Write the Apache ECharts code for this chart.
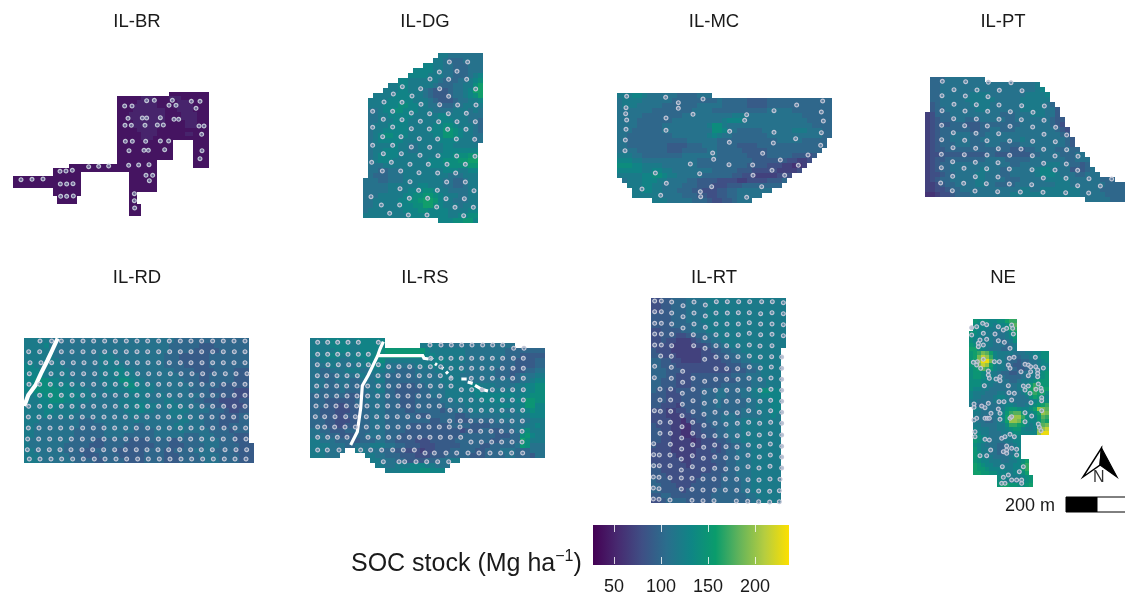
<!DOCTYPE html>
<html><head><meta charset="utf-8">
<script src="https://cdn.jsdelivr.net/npm/echarts@6/dist/echarts.min.js"></script>
<style>html,body{margin:0;padding:0;background:#fff}#c{width:1125px;height:596px;filter:blur(.5px)}</style>
</head><body><div id="c"></div>
<script>
// value letters -> SOC stock (Mg/ha)
const levels={a:30,b:40,c:50,d:60,e:70,f:80,g:90,h:100,i:110,j:120,k:130,l:140,m:150,n:160,o:170,p:180,q:190,r:200,s:215,t:230};
const legendTicks=[50,100,150,200];
const socMin=27.7, socMax=236.2;
const viridisStops=['#440154','#472a70','#3f4f85','#2a6e8d','#0f8585','#0a9c6c','#65b45a','#b5cd40','#fde000'];

// rasters: one string per row, letter = value, optional count = run length, space = no data
const rasterBR=[" 40b10"," 27b6c3b4c3b7"," 27b5c5b5c3b5"," 27b4c6b4c5b4"," 27b4c8b3c4b4"," 27b3c9b4c4b3"," 27b3c9b4c4b3"," 27b4c8b5c3b3"," 27b4c7b6c3b3"," 27b5c5b13"," 27b6c4b7c2b4"," 27b6c3b14"," 27b14 5b4"," 27b14 5b4"," 27b14 5b4"," 27b14 5b4"," 27b14 5b4"," 27b10 9b4"," 15b22 9b4"," 11b26"," 11b7 12b7"," 1b17 12b7"," 1b17 12b7"," 1b17 12b7"," 11b7 12b7"," 11b7 12b2"," 12b5 13b2"," 12b5 13b2"," 30b3"," 30b3"," 30b3"];
const rasterDG=["               jjiiiiiii","              jjihhhiiii","            kkjjiihhhiii","          kkkkjjiihhhiii","         kkkkjjjiihhhijk","       kkjjjjjjihhhiijkl","     jjkkjjjjjihhhiijjln","    jjjkkjjjihggghiijknn","  jjjjkkkkjjihggghiijkln"," jjjjkkkkkjjjihggghiijjk"," jjjkkkllkkjjiihhhiijjjj"," iijkkllkkkjjjiiiijjjiji"," iijjkkkkkjjjjjkkjjjjiii"," iijjjkkkjjjjjjkkkjjjiih"," ijjjkkkkjjjjjkkllkjjjih"," ijjkkkkkjjjjkkkmmlkjjih"," ijkllkkkjjjjjkkmmlkjjii"," ijkkkkkjjjjjjjkkkkjjjii"," ijjjjkjjiijjjjjkkjjjjj"," ijjkkkjjiijjjjjkkkkkkk"," ijkkkkjjjjjjjjkkklllmm"," ijkkkjjjjjjjkkklllmmnn"," iiijjjjjjjjjkkkkllllmm"," iihhiiijjjjjjjjkkkjjkk"," ihhhiiijjjjjjjjjiiijjj","iiihhiiijjjjjjjjiihhijj","iiiiijjjjjjkkjjjiihhijj","iiiiijjjjkkkllkjjiiiijj","iiijjjjjkkllmmlkjjjiijj","iijjjjjkkllmnnmkjjiiijj","iijjjjjkkkllnnlkjjjijjj","ijjjjjjjkkkllkkkkjjjjkk","jjjjjjjjjkkkkkkkkjjkkll","               kkkllmmk"];
const rasterMC=["jjjkkjiiiiiihhhhiii","ijjjjiiiiiihhhhhhhhhihhhhhgggghhhhhhhhhhhhh","ijjjiiiiihhhhhhhiiiiihhhhhgggghhhhhhhhhhhhh","iiiiiiihhhhhhhhiiiihhhhhhhhhhhiiiiihhhhhhhh","iiiiihhhhhhhhiiiiiiiiiijjjiiiiiiiiiiihhhhhh","iiiihhhhhhhiiiiiiiiiijkkkjiiiiiiiiiiiihhhhh","iiiihhhhhiiiiiiiiijlljiiiiiiiiiiiiiiiiihhhh","iiihhhhhhiiiiiiiiiillkiihhhhhiiiiiijjjiiihh","iihhhhhhhhhiiiiiiijkjiihhhhhhhiiiiiiiiiiihh","iihhhhhhhhhhhhiiiiiihhhhhhhhhhhhiiiiihhhhh","iihhhhhhhhgggghhhiiihhhhgggghhhhhhhhhhhhhh","iiiihhhhhhggghhhhhiihhhhhggggghhhhhhhhhhh","jjjiihhhhhhhhiiiiiiihhhhhhgggghhhhhgggfg","kkkjjiiiiiiiiiiihhhhhhhhhhhgggggggffeef","lllkkjjjjiiiiiiihhhhhhhhhhggggfffeedde","kkkkkjjkkjjiiiiiiiihhhhhgggfffffeeeef","jjjjjkkllkjjiiiiihhhhhhggffeeeeefff"," ijjjkkkjjiiiihhggggffffeeffffgggh","  jjjkkjjiiiihhhgggfffggghhhhhhhh","   jjkkjjiiihhhggfffgghhiiiiiii","   jjjjjjiiiihhhggffgghhiiiii","       jjjiiiiihhhgffgghiii"];
const rasterPT=[" hhhiiiiiiii"," hhiiiiiiiiiiiiiiiiiiij"," hhiiiiiiijiiiiiiiiiiijk"," hhiiiiiijjjjiiiiiiijjjjk"," hhiiiiijjjjjjiiiiijjjjjj"," ghiiiiiijjjjiiiiiijjjjjih"," ghhiiiiiijjjiiiiiijjjjjiig","efhhhiiiiiiiiiihhhiiijjjiig","efghhhiihhhiiiiihhiiiiiiihgg","efggghhhggghhhhhhhhiiiiiihgf","efghhhhhhgghhiihhhiiiiiiiihgf","efghhiiiihhhiiiiiiiiiiiiiiihg","efghhiiiihhiiiiiiiijiiiiiiiihg","efghhhiiihhhiiihhhhiiiiiiiiihg","efgghhhhhhhhhhhhhggghhiiiihhihh","effggggggggghhggggggghhiiiihhhii","efgghhhhhhhhiiiihhhhhiiiiiiihhiii","efghhiiiiiiiiiiiihhiiiiijjjiihhgh","efghhiiiiiijjiihhiiiijjkkjiiiggghi","effghhiiiijjiiihhiiiiijkkkjiiihhiii","efghhiiiiijjiiiihhhiiiiijjjjjiiiiiihhh","eefghhiiiijjiihhhhiiiiiiiijjjiiiiiiihhhh","eeffghhiiiiiiiiiiiijjiijjjjjjjjiiiihhhhh","ddeffghhhiiiiiiiijjjjjjjjjjjjjjiiiiihhhh"," 32i5h3"];
const rasterRD=["j5i25h15","j4k1i24h6g3h7","j6i23h5g5h6","j6i9j3i10h3g6h8","j7i8j4i9h3g6h8","k2j6i7j5i8h4g5h8","k3j6i6j3k2j2i8h4g4h4g3","k4j5i6j3k3j2i8h4g2h5g3","k2l3k2j3i5j4l2k1j2i8h3g2h5g3","k2l4k3j3i4j4l2k1j3i8h5g6","k2l5k3j3i3j5k2j3i7h4g5f3","j2k2l4k3j4i5j5i2j1i7h4g3f3","j3k2l3k2j3i6j6i3j2i4h2g3f4g2","j3k4j4i8j3k2j3i1j4i3h3g2f4g1","j4k2j5i9j3k1j2i3j4i4h3g1f2g2","j4k1j5i11j2i6j3i3h4g4h2","j3i8h3i8j1i8j2i3h3g4h2","j2i9h5i6h2i6j2i4h3g2h4","j2i8h6i6h4i5j1i5h4g1h3","j2i8h6i4h6i6h3i3h4g3","j1i8h5g2h5g4h4g2h4i4h3g3","j1i7h5g3h4g6h3g3h4i3h4g3","j2i6h3g3h4g6h4g2h4i4h4g4","j3i6h3g3h4g5h4g3h4i4h4g3","j3i7h4g2h4g4h4g3h5i3h4g3"];
const rasterRS=["j3k5j1k6","j4k4j2k5 7j4i15","j5k3j2k4l1m8k1j7i8h8","j3k3j3k4l2m7l1k2j6i8h3g5","i2j4i2j3k3l1j10k2j4i7h3g4h2","i3j3i3j3k3i6j3k1j5i8h3g4h2","i2h2i3j3i2j3i2h4i4j6i6h3g3h2i2","i2h3i4j2i2j1i1h6i5j4i7h3g1h1i3j2","i3h2i3h2i3j2h7i4j5i6i3h2i2j1k2","i3h3i2h3i2i2h3g3h2i4j5k2j3i4j2k2l2","i2h4i1h4i2j2h2g5h1h1i3j5k3j3j3j2k2l2","h7g3h2i3h2g4h3i3j6k5k3j1k2l3","h3g6h2i4h3g3h3h2i3j5k4j3k1k1m2l2","h3g2f2g2h3i3h3g3h3h3i4j4j3k2j2k1m2k2","h2g3f3g2h2i3h4g2h3h2g1h2i3j3j4i2j1k2l1k2","h2g3f2g3h2i3h6g3h5g2h1i2i4j2i2j2k3","h3g2f3g2h2i3h9g2h3g3h2h3i5i2j1j2","h3g2f2g3h2i3h5g5g3h4g2g2h4i2i1j2k1j1","i2h2g3h3h2i3h4g7g4f1g3h2g2h3i1k1l1j3","i3h3g3h2i2i2h3g8g4h4h3g3h2l1m1k1j2","j2i3h3g2h3i2h2g4f3g2g3h5h2g2h4n1l1j3","j4i3h2i3j3i2h2g3f3g2g3h4g2h5i1m1l1i3","j3i4 2j2i3h3g2f3e1f2g3h5g2h3i3h3i3","j3i3 5j2i2h3g3f3g3h5g3h4i2h3g1i2"," 12j2i3h2g4h3i2j2"," 13j2i2j3k3j2i3"," 15j3k4l2k3"];
const rasterRT=["f2g2h3i4j16","f2g2h3i4j16","f2g2h3i4j16","g4h3i4j16","g4h3i3j17","g4h4i3j16","f2g4h2i3j16","f2g3f2g2h2i2j14","f2g1f2e3f1g1h2i2j13","f4e5f2g1h2i1j12","g1f3e6f2g2h2i2j8","g2f3e5f3g2h2i2j7","h2g2f2e4f4g2h2i2j6","h2g3f10g3h2i2j4","h3g3f10g3h2i1j4","h3g2f3g8h3i3j4","h2g3f3g9h3i3j3","h2g3f3g6h4h2i3j3","h1g2f2g5h3i2h2i3j1k1l2k2","g3f3g4h3i2h3i2j2k2k2","g3f3g4h3i1h5i2j3k2","g2f3e1g4h3i1h5i2j3k2","f3e2f2g3h3h5i3j3k2","f3e3f2g3h3i3h1i4j2k1j1","f4e2d1f2g2h3i4j8","g1f3e2d2f2g2h3i3j8","g2f2e2d2f2g3h2i3j8","g2f2e2d2e1f2g2h2i3j8","g2f2e4d1e1f3g2h1i2j8","g1f3e6f4g2h2i2j6","f4e5f3g1f1g1h2i3j6","f5e4f4g2h2i3j6","f6e2f4g3h2i3j6","g1f6e1f5g2h2i3j6","g2f10g3h2i3j6","g3f7g4h3i3j6","h1g3f5g5h4i2j6","h2g3f3g6h4i2j6","h2g4f1g6h5i2j6","g2h2g8h7i2j5","f2g1h4g5h8i2j4"];
const rasterNE=[" mlllkkllnoo"," lkkkkjkklnp"," lkkjjjjklno","mlkkjjiiijln","lkkjjjiiijkm","lkjjjjiihijl","mlkjjjiiihij","nnlkjiiihhij","mnoqpnkjjjjiiijjkkll","mnqsrokjjihhhiijjkll","mnrttqljjihhghhiijkl","mmqsrnkjjihgghhiijkk","lmnpomkjjihhgghijjkl","lmmlkjjihhgghiijjklm","lmmlkkjiihhhhiijjklm","lllkkjjiiihhijjklmmm","lllkjjiiiiiijjkmonmm","lkkjjiiiiiiijklnpnnn","kjjjiiijjiiiijlnonnl","kjjiiijkkjiiiijlnmlk","jjiiiijjjjiiiiijklll","jihhiiiijkkjiijklmno"," kjiiiiijlmmlkklnrqp"," jjiiiijkmoppmkklnrq"," jiihiijknsrrolkkmpo"," jiihhijknrrqnlkkmon"," jjiiiijjloonmkjkmpq"," kjjjiijjklmmkjjkqrs"," lkjjiiijjkllkkkkrtt"," mlkjiiiijjkk"," mlkjiiiijjkk"," lkjiiihhiijk"," mkjjiihhhijk"," mljjiihhiijk"," mlkjjiiiijkl"," mlkkjjjiijjkln"," nmlkkjjjjjkkmo"," nmmlkkkkjjkkmo"," nnmmllkkkjkkln","       lkkjjjklm","       lkjjjjklm","       mnnmmllmn"];

// sampling locations, map units of each field
const pointsBR=[[440,62],[463,61],[517,61],[574,64],[600,64],[374,78],[396,78],[507,76],[528,76],[588,85],[384,115],[427,114],[440,114],[481,113],[522,118],[536,118],[375,136],[394,136],[435,136],[472,135],[490,135],[597,138],[612,138],[605,163],[376,184],[397,184],[437,184],[481,183],[506,183],[387,212],[432,211],[445,211],[494,209],[606,212],[600,236],[386,256],[416,255],[447,254],[266,260],[296,259],[326,258],[180,274],[198,273],[217,271],[438,286],[458,286],[448,302],[63,299],[96,298],[129,297],[181,312],[200,312],[219,311],[403,341],[403,362],[404,384],[182,349],[200,349],[220,348]];
const pointsDG=[[283,51],[338,51],[253,81],[306,79],[225,102],[281,103],[335,103],[142,125],[197,131],[254,131],[362,132],[115,147],[171,153],[281,154],[87,171],[141,172],[198,178],[254,179],[308,180],[363,180],[53,199],[113,199],[169,204],[224,206],[280,206],[334,205],[85,223],[141,224],[196,229],[251,230],[306,230],[361,230],[53,247],[113,246],[169,251],[223,252],[278,253],[333,253],[83,275],[138,275],[193,281],[248,282],[304,282],[359,283],[53,301],[113,301],[169,306],[224,307],[85,326],[139,326],[195,331],[249,332],[305,333],[360,334],[50,352],[109,352],[165,358],[220,358],[276,358],[331,358],[82,378],[137,378],[192,383],[248,384],[302,384],[165,410],[275,411],[331,411],[135,431],[191,436],[247,436],[357,437],[48,455],[163,460],[218,460],[273,461],[328,461],[79,480],[134,480],[245,486],[300,487],[355,487],[104,505],[160,510],[216,510],[326,512]];
const pointsMC=[[50,34],[167,37],[205,53],[279,42],[638,48],[560,60],[48,68],[205,70],[47,86],[249,88],[492,77],[634,81],[410,89],[50,105],[168,99],[404,106],[640,108],[48,133],[168,136],[359,139],[492,142],[634,143],[46,165],[358,172],[557,161],[490,174],[632,181],[45,197],[308,204],[458,205],[594,210],[311,223],[511,225],[241,237],[357,239],[428,240],[565,241],[136,264],[269,266],[486,256],[429,271],[524,271],[169,295],[305,305],[455,305],[96,312],[271,320],[152,331],[272,335],[410,337]];
const pointsPT=[[67,34],[137,35],[205,37],[273,38],[102,59],[171,60],[238,61],[306,62],[66,77],[136,78],[204,80],[102,103],[169,104],[237,105],[305,107],[373,108],[66,122],[135,123],[203,124],[271,125],[339,127],[101,146],[169,147],[237,148],[304,149],[372,151],[65,166],[134,167],[202,168],[270,169],[338,171],[407,172],[100,188],[168,190],[236,191],[372,193],[440,195],[65,209],[134,211],[201,212],[269,213],[338,214],[406,215],[99,233],[167,235],[235,236],[303,237],[371,238],[440,239],[64,253],[133,254],[201,255],[269,256],[337,257],[405,258],[474,259],[98,275],[166,277],[234,278],[371,280],[439,282],[64,293],[132,295],[200,296],[268,297],[336,299],[405,300],[473,301],[98,319],[166,320],[234,321],[370,324],[438,325],[507,326],[575,327],[62,339],[131,340],[199,341],[268,342],[335,344],[473,347],[541,348],[97,362],[165,363],[233,365],[301,366],[369,367],[437,368],[506,369]];
// row lists: [northing, [eastings]]
const rowsRD=[[33,[75,110,139,172,204,236,269,301,334,366,398,431,463,496,528,560,593,625,657,690]],[65,[41,74,139,171,204,236,269,301,334,366,398,431,464,496,528,560,593,625,658,690]],[98,[45,78,110,143,175,207,240,272,305,337,367,399,431,463,496,528,561,593,625,657,690]],[131,[43,108,141,173,206,239,271,304,336,368,401,433,466,498,531,563,598,631,663,696]],[163,[42,74,106,138,171,203,236,269,301,333,366,398,431,463,496,528,561,593,626,658,690]],[196,[74,106,139,171,203,236,269,301,334,366,398,431,463,495,528,561,593,625,658,690]],[229,[41,74,106,139,171,204,236,269,301,334,366,398,431,463,496,528,561,593,626,658,690]],[261,[40,72,104,137,169,202,234,267,299,331,364,396,429,461,494,526,559,591,624,656,693]],[294,[40,72,105,137,170,203,235,267,299,332,364,398,431,463,496,528,561,593,627,660,692]],[327,[38,71,104,136,169,202,234,267,299,332,364,397,430,462,495,527,560,592,625,660,693]],[359,[37,70,103,135,168,201,233,266,299,331,364,396,429,461,494,527,559,592,630,663,695]],[387,[43,75,108,140,173,205,238,270,303,335,368,400,433,465,498,530,563,595,628,660,693]]];
const rowsRS=[[52,[53,83,113,144,175,235]],[60,[390,423,454,485,516,548,578,608]],[70,[641,672]],[88,[53,83,113,144,175,205]],[100,[392,423,453,484,515,546,577,608,640,670]],[119,[52,84,115,146,176,205,235]],[125,[266,297,329,360,391,422]],[130,[453,484,515,546,576,607,639,670]],[152,[52,80,111,141,172,234,264,295,326,358,389,421]],[160,[453,514,546,577,608,638,670]],[183,[50,79,110,140,171,203,235,266,296,327,359,391,422,453]],[194,[484,515,546,577,608,638,670]],[213,[50,79,110,141,171,203,233,263,294,324,356,386,418]],[225,[451,482,513,545,576,607,637,670]],[243,[48,78,108,139,170,201,232,263,294,325,356,387,418]],[256,[450,481,512,544,575,606,637,668]],[275,[46,74,105,137,166,199,230,261,292,323,355,385]],[288,[449,481,512,543,574,605,636,667]],[306,[53,74,104,135,166,199,232,263,294,325,356,387,418,448,480]],[319,[511,542,573,604,635,666]],[337,[53,83,112,141,204,235,266,297,328,359,390,421,451,482]],[351,[513,544,575,605,636,666]],[375,[53,82,117,182,212,245,278,310,343]],[384,[375,403,438,470,504,537,570,602,635,668]],[410,[250,297,314,348,380,413,446]]];
const pointsRT=[[44,33],[64,33],[95,36],[129,47],[162,36],[196,45],[229,35],[262,35],[296,35],[329,35],[365,35],[397,35],[430,38],[44,65],[64,65],[95,69],[129,80],[162,69],[196,78],[228,69],[262,69],[295,68],[328,68],[362,71],[396,68],[430,71],[44,100],[64,100],[95,102],[129,114],[162,102],[196,112],[228,102],[261,102],[295,102],[328,98],[362,102],[396,102],[430,104],[44,132],[64,132],[95,133],[160,134],[195,143],[228,134],[261,134],[295,134],[328,130],[362,134],[396,133],[430,137],[44,165],[64,165],[95,167],[161,167],[195,175],[228,167],[260,167],[294,167],[328,165],[360,168],[396,167],[62,198],[94,199],[194,208],[228,201],[260,201],[294,200],[328,198],[361,201],[395,200],[425,201],[44,229],[94,232],[128,244],[228,236],[260,236],[293,236],[328,231],[361,234],[394,231],[425,235],[43,263],[94,265],[128,277],[159,265],[194,274],[227,268],[260,268],[294,268],[327,265],[360,268],[393,264],[425,268],[60,297],[92,297],[127,310],[159,298],[193,307],[226,301],[260,301],[293,301],[327,298],[360,301],[393,298],[425,301],[60,330],[92,330],[127,343],[159,332],[193,340],[226,334],[259,334],[293,334],[326,331],[360,334],[392,331],[425,334],[43,362],[61,364],[92,364],[126,377],[159,365],[192,373],[225,367],[259,369],[292,368],[326,362],[358,367],[392,362],[425,367],[60,397],[91,397],[126,410],[158,397],[192,406],[225,400],[258,403],[292,400],[326,397],[359,400],[392,397],[425,400],[60,430],[91,430],[125,444],[158,430],[191,439],[225,437],[258,437],[292,437],[325,431],[358,435],[391,431],[425,435],[41,461],[91,463],[125,477],[158,464],[191,472],[224,465],[258,470],[291,471],[325,465],[358,469],[391,462],[425,469],[41,494],[58,495],[90,495],[124,507],[157,497],[190,505],[224,501],[257,503],[291,503],[324,496],[358,501],[391,495],[425,501],[41,527],[58,527],[90,527],[124,540],[157,530],[190,538],[224,535],[257,537],[291,536],[324,530],[357,534],[390,529],[425,534],[40,561],[57,562],[90,563],[124,564],[156,565],[189,567],[222,567],[256,567],[290,568],[324,569],[357,570],[390,567],[420,568],[40,594],[57,596],[124,597],[156,598],[189,600],[223,600],[256,600],[290,601],[323,602],[356,603],[389,604],[418,602],[40,627],[57,628],[90,630],[156,631],[189,632],[222,632],[289,633],[323,634],[356,635],[389,636],[418,635]];
const pointsNE=[[35,53],[50,50],[68,40],[80,44],[115,50],[155,45],[158,55],[130,60],[140,55],[70,70],[105,72],[160,72],[35,75],[80,88],[60,90],[115,92],[133,97],[55,100],[70,105],[55,110],[150,115],[40,157],[52,155],[70,148],[50,165],[62,175],[103,155],[118,155],[148,145],[162,142],[226,142],[145,165],[150,175],[195,163],[205,165],[212,170],[227,170],[250,174],[233,180],[233,190],[233,200],[183,185],[85,183],[85,195],[108,207],[88,205],[120,200],[120,212],[212,185],[205,197],[235,222],[145,227],[73,227],[190,228],[205,228],[195,240],[228,238],[243,235],[245,243],[147,248],[163,250],[155,270],[117,275],[132,275],[210,250],[245,263],[245,272],[42,282],[42,292],[65,288],[75,293],[85,280],[213,278],[115,297],[120,310],[195,308],[245,302],[93,310],[120,328],[75,325],[82,325],[88,325],[150,325],[155,320],[50,325],[42,330],[195,335],[215,318],[235,342],[238,352],[243,362],[45,365],[45,380],[75,388],[88,390],[125,385],[135,380],[150,373],[163,380],[92,420],[140,408],[155,415],[140,420],[130,425],[140,430],[170,418],[170,435],[60,437],[80,437],[127,470],[190,470],[178,485],[145,495],[130,502],[125,520],[135,520],[155,510],[170,510],[185,510],[185,520]];
// unsampled strips (drainage) crossing the fields, "-" breaks the line
const gapRD=[[128,25],[112,60],[98,90],[78,130],[62,165],[40,195],[28,228]];
const gapRS=[[250,50],[240,72],[233,92],[205,150],[187,182],[182,250],[172,320],[152,360],['-','-'],[235,92],[368,92],[372,100],[386,102],['-','-'],[392,98],[398,104],['-','-'],[405,116],[411,120],['-','-'],[424,127],[430,131],['-','-'],[438,140],[444,146],['-','-'],[450,155],[456,158],['-','-'],[484,162],[500,162],['-','-'],[503,171],[518,175],['-','-'],[525,181],[545,193],[564,198]];

const fields=[
 {name:'IL-BR',cx:137,cy:22,left:0,top:80,w:220,h:140,ox:28,oy:35,cell:12,raster:rasterBR,points:pointsBR},
 {name:'IL-DG',cx:425,cy:22,left:355,top:45,w:135,h:185,ox:25,oy:24,cell:15,raster:rasterDG,points:pointsDG},
 {name:'IL-MC',cx:714,cy:22,left:610,top:85,w:230,h:125,ox:20,oy:23,cell:15,raster:rasterMC,points:pointsMC},
 {name:'IL-PT',cx:1003,cy:22,left:920,top:70,w:205,h:135,ox:14,oy:20,cell:15,raster:rasterPT,points:pointsPT},
 {name:'IL-RD',cx:137,cy:278,left:15,top:330,w:245,h:140,ox:27,oy:25,cell:15,raster:rasterRD,rows:rowsRD,gap:gapRD},
 {name:'IL-RS',cx:425,cy:278,left:300,top:325,w:255,h:150,ox:30,oy:38,cell:15,raster:rasterRS,rows:rowsRS,gap:gapRS},
 {name:'IL-RT',cx:714,cy:278,left:640,top:290,w:150,h:220,ox:32,oy:24,cell:15,raster:rasterRT,points:pointsRT},
 {name:'NE',cx:1003,cy:278,left:960,top:310,w:100,h:185,ox:28,oy:28,cell:12,raster:rasterNE,points:pointsNE}
];

function decode(row){const out=[];row.replace(/([a-t ])(\d*)/g,(m,c,n)=>{const k=n?+n:1;for(let i=0;i<k;i++)out.push(c);return m;});return out;}
function cells(f){const d=[];f.raster.forEach((row,r)=>decode(row).forEach((c,k)=>{if(c!==' ')d.push([f.ox+k*f.cell,f.oy+r*f.cell,levels[c]]);}));return d;}
function pts(f){return f.points||f.rows.flatMap(([y,xs])=>xs.map(x=>[x,y]));}

const grid=[],xAxis=[],yAxis=[],series=[],title=[],rasterIdx=[];
const FONT='"Liberation Sans",Arial,sans-serif';
fields.forEach((f,i)=>{
 grid.push({left:f.left,top:f.top,width:f.w,height:f.h,containLabel:false});
 xAxis.push({type:'value',gridIndex:i,min:0,max:f.w*3,show:false});
 yAxis.push({type:'value',gridIndex:i,min:0,max:f.h*3,inverse:true,show:false});
 title.push({text:f.name,left:f.cx,top:f.cy,textAlign:'center',textVerticalAlign:'middle',padding:0,textStyle:{fontFamily:FONT,fontSize:18.5,fontWeight:'normal',color:'#1a1a1a'}});
 rasterIdx.push(series.length);
 const c=f.cell;
 series.push({type:'custom',xAxisIndex:i,yAxisIndex:i,z:1,silent:true,animation:false,data:cells(f),encode:{x:0,y:1},
  renderItem:(p,api)=>{const a=api.coord([api.value(0),api.value(1)]),b=api.coord([api.value(0)+c,api.value(1)+c]);
   const x0=Math.round(a[0]),y0=Math.round(a[1]),x1=Math.round(b[0]),y1=Math.round(b[1]);
   return {type:'rect',shape:{x:x0,y:y0,width:x1-x0,height:y1-y0},style:{fill:api.visual('color')}};}});
 if(f.gap)series.push({type:'line',xAxisIndex:i,yAxisIndex:i,z:2,silent:true,animation:false,showSymbol:false,connectNulls:false,data:f.gap,lineStyle:{color:'#fff',width:i===5?3.2:4.2,cap:'butt',join:'miter'}});
 series.push({type:'scatter',xAxisIndex:i,yAxisIndex:i,z:3,silent:true,animation:false,symbol:'circle',symbolSize:3.8,data:pts(f),itemStyle:{color:'rgba(130,150,180,.6)',borderColor:'#c2c6d6',borderWidth:1.2,opacity:1}});
});
// colour bar axis
const L=fields.length;
grid.push({left:593,top:525,width:196,height:40});
const tickStyle={show:true,inside:true,length:7,customValues:legendTicks,lineStyle:{color:'#fff',width:1,opacity:.8}};
xAxis.push({type:'value',gridIndex:L,min:socMin,max:socMax,position:'bottom',z:10,axisLine:{show:false},splitLine:{show:false},axisTick:tickStyle,axisLabel:{customValues:legendTicks,margin:14,fontFamily:FONT,fontSize:18,color:'#1a1a1a'}});
xAxis.push({type:'value',gridIndex:L,min:socMin,max:socMax,position:'top',z:10,axisLine:{show:false},splitLine:{show:false},axisTick:tickStyle,axisLabel:{show:false}});
yAxis.push({type:'value',gridIndex:L,min:0,max:1,show:false});

const barStops=viridisStops.map((color,i)=>({offset:i/(viridisStops.length-1),color}));
const option={animation:false,backgroundColor:'#fff',grid,xAxis,yAxis,series,title,
 visualMap:{type:'continuous',show:false,min:socMin,max:socMax,dimension:2,seriesIndex:rasterIdx,inRange:{color:viridisStops}},
 graphic:[
  {type:'rect',z:-1,shape:{x:593,y:525,width:196,height:40},style:{fill:{type:'linear',x:0,y:0,x2:1,y2:0,colorStops:barStops}}},
  {type:'text',left:351,top:549,style:{fontFamily:FONT,text:'{a|SOC stock (Mg ha}{s|−1}{a|)}',rich:{a:{fontFamily:FONT,fontSize:25,fill:'#1a1a1a',height:30},s:{fontFamily:FONT,fontSize:16,fill:'#1a1a1a',padding:[0,0,12,0],verticalAlign:'top'}}}},
  {type:'text',x:1005,y:497,style:{fontFamily:FONT,text:'200 m',fontSize:18,fill:'#1a1a1a'}},
  {type:'rect',shape:{x:1066,y:497,width:31,height:15},style:{fill:'#000',stroke:'#000',lineWidth:1}},
  {type:'rect',shape:{x:1097,y:497,width:30,height:15},style:{fill:'#fff',stroke:'#000',lineWidth:1}},
  {type:'polygon',shape:{points:[[1101.5,448],[1083,477],[1100,465]]},style:{fill:'#fff',stroke:'#000',lineWidth:1.4}},
  {type:'polygon',shape:{points:[[1101.5,448],[1117,477],[1100,465]]},style:{fill:'#000',stroke:'#000',lineWidth:1.2}},
  {type:'text',x:1093,y:470,style:{fontFamily:FONT,text:'N',fontSize:16,fill:'#333'}}
 ]};
const chart=echarts.init(document.getElementById('c'),null,{renderer:'canvas'});
chart.setOption(option);
</script></body></html>
